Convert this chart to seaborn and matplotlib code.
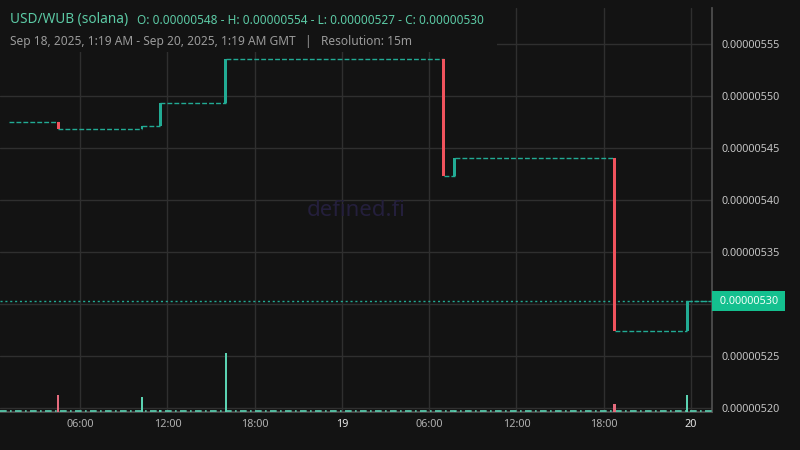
import matplotlib
matplotlib.use("Agg")
import matplotlib.pyplot as plt
from matplotlib.patches import Rectangle
import matplotlib.transforms as mtransforms
import pandas as pd
import seaborn as sns

# 15m candles where the price moved (bar time = candle open, GMT)
change_times = ["2025-09-18 04:30", "2025-09-18 10:15", "2025-09-18 11:30", "2025-09-18 16:00",
                "2025-09-19 07:00", "2025-09-19 07:45", "2025-09-19 18:45", "2025-09-19 23:45"]
change_open = [5.475e-6, 5.469e-6, 5.471e-6, 5.494e-6, 5.536e-6, 5.423e-6, 5.441e-6, 5.274e-6]
change_close = [5.469e-6, 5.471e-6, 5.494e-6, 5.536e-6, 5.423e-6, 5.441e-6, 5.274e-6, 5.303e-6]
change_volume = [17.5, 15.5, 2.5, 59.5, 0.5, 1.5, 8.5, 17.5]
first_candle = "2025-09-18 01:15"
last_candle = "2025-09-20 01:15"
last_price = 5.303e-6

price_ticks = [5.20e-6, 5.25e-6, 5.30e-6, 5.35e-6, 5.40e-6, 5.45e-6, 5.50e-6, 5.55e-6]
x_tick_labels = ["06:00", "12:00", "18:00", "19", "06:00", "12:00", "18:00", "20"]

title = "USD/WUB (solana)"
ohlc_text = "O: 0.00000548 - H: 0.00000554 - L: 0.00000527 - C: 0.00000530"
range_text = "Sep 18, 2025, 1:19 AM - Sep 20, 2025, 1:19 AM GMT   |   Resolution: 15m"

bg = "#131313"
grid_c = "#2f2f2f"
up = "#22ab94"
down = "#f0535d"
vol_up = "#5bd3b2"
vol_down = "#e56b7d"

sns.set_theme(style="dark", rc={
    "axes.facecolor": bg, "figure.facecolor": bg, "savefig.facecolor": bg,
    "grid.color": grid_c, "grid.linewidth": 1.0,
    "axes.edgecolor": "#4a4a4a", "xtick.color": "#b0b0b0", "ytick.color": "#c4c4c4",
})
plt.rcParams["font.family"] = ["Noto Sans", "DejaVu Sans"]

times = pd.to_datetime(change_times)
t_first = pd.Timestamp(first_candle)
t_last = pd.Timestamp(last_candle)
half = pd.Timedelta(minutes=7.5)

fig = plt.figure(figsize=(8, 4.5), dpi=100)
ax = fig.add_axes([0, 38 / 450, 712 / 800, 404 / 450])
ax.set_facecolor(bg)
ax.set_axisbelow(True)

# volume overlay (made first so the price ticks stay on the right)
ax2 = ax.twinx()
ax2.set_ylim(0, 404)

# flat stretches between moves
seg_start = [t_first - half] + list(times)
seg_end = list(times) + [t_last + half]
levels = [change_open[0]] + change_close
ax.hlines(levels, seg_start, seg_end, colors=up, linewidth=1.0,
          linestyles=(0, (3.5, 1.5)), zorder=3)

# candle bodies
bar_w = 0.75 / 96
colors = [up if c >= o else down for o, c in zip(change_open, change_close)]
bottoms = [min(o, c) for o, c in zip(change_open, change_close)]
heights = [max(abs(c - o), 0.02e-7) for o, c in zip(change_open, change_close)]
ax.bar(times, heights, bottom=bottoms, width=bar_w, color=colors, zorder=4, linewidth=0)

# last price line + label
ax.axhline(last_price, color=up, linewidth=1.0, linestyle=(0, (1.5, 2)), zorder=2)
trans = mtransforms.blended_transform_factory(ax.transAxes, ax.transData)
ax.text(1 + 4.5 / 712, last_price, " 0.00000530 ", transform=trans, ha="left", va="center",
        fontsize=7.8, color="#f2fff8", zorder=10, clip_on=False,
        bbox=dict(boxstyle="square,pad=0.4", fc="#14c08f", ec="none"))

ax.set_xlim(pd.Timestamp("2025-09-18 00:29"), pd.Timestamp("2025-09-20 01:27"))
ax.set_ylim(5.19644e-6, 5.5849e-6)

ax.yaxis.tick_right()
ax.set_yticks(price_ticks)
# the last-price badge sits on top of the 0.00000530 label
ax.set_yticklabels(["" if abs(v - 5.30e-6) < 1e-12 else f"{v:.8f}" for v in price_ticks],
                   fontsize=7.8)
ax.tick_params(axis="y", length=0, pad=7, left=False, labelleft=False, right=False, labelright=True)

xt = pd.date_range("2025-09-18 06:00", "2025-09-20 00:00", freq="6h")
ax.set_xticks(xt)
ax.set_xticklabels(x_tick_labels, fontsize=7.8)
ax.tick_params(axis="x", length=0, pad=5)
for lab in ax.get_xticklabels():
    if ":" not in lab.get_text():
        lab.set_fontweight("bold")
        lab.set_color("#e8e8e8")

ax.grid(True, axis="both")
for s in ["left", "top"]:
    ax.spines[s].set_visible(False)
ax.spines["right"].set_color("#505050")
ax.spines["bottom"].set_color("#505050")

# header backdrop hides grid under the legend text
ax.add_patch(Rectangle((0, 1 - 52 / 450), 497 / 800, 52 / 450, transform=fig.transFigure,
                       facecolor=bg, edgecolor="none", zorder=1))

ax2.bar(times, change_volume, width=0.6 / 96,
        color=[vol_up if c == up else vol_down for c in colors], zorder=3, linewidth=0)
ax2.axhline(0.8, color=vol_up, linewidth=1.2, linestyle=(0, (4, 2, 1, 2)), zorder=2)
ax2.set_yticks([])
ax2.grid(False)
for s in ax2.spines.values():
    s.set_visible(False)

# watermark
ax.text(0.5, 0.5, "defined.fi", transform=ax.transAxes, ha="center", va="center",
        fontsize=16, color="#241f3c", zorder=1)

fig.text(10 / 800, 1 - 20 / 450, title, fontsize=9.8, color="#5ccaa5", va="center")
fig.text(137 / 800, 1 - 20 / 450, ohlc_text, fontsize=8.5, color="#5ccaa5", va="center")
fig.text(10 / 800, 1 - 41 / 450, range_text, fontsize=8.6, color="#9a9a9a", va="center")

fig.savefig("out.png", dpi=100)
